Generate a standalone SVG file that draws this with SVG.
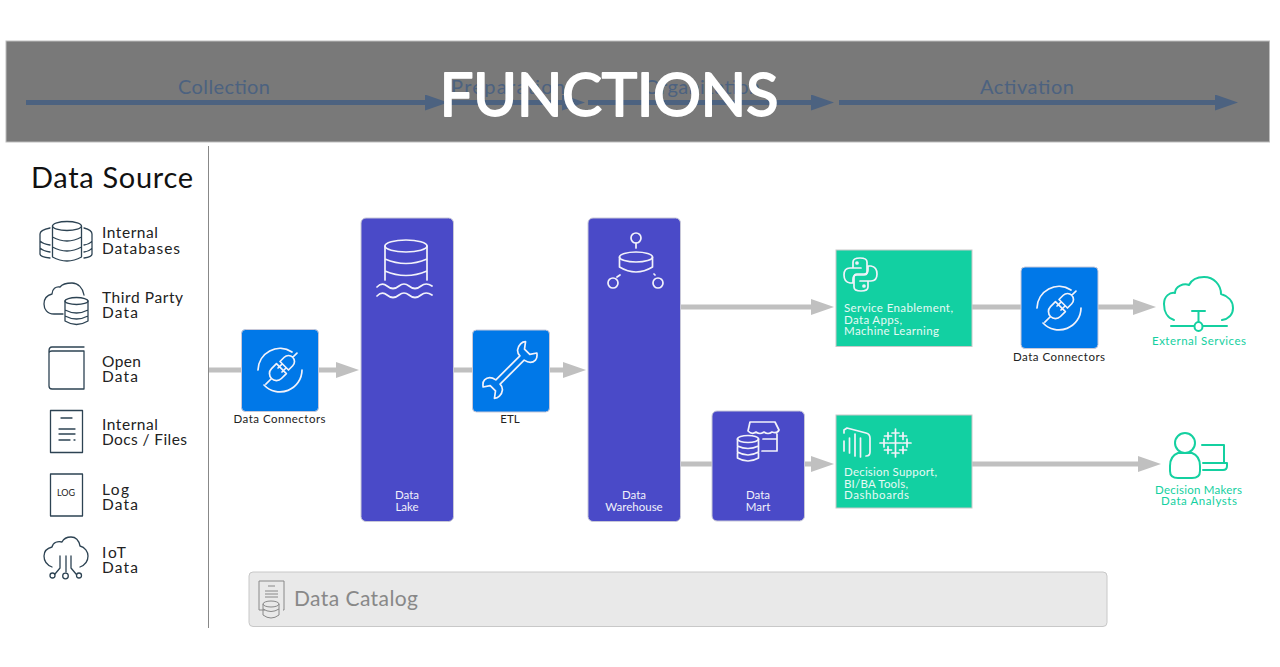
<svg xmlns="http://www.w3.org/2000/svg" width="1280" height="667" viewBox="0 0 1280 667">
<style>
text{font-family:"Lato","Noto Sans",sans-serif}
.src{font-size:15.5px;fill:#222}
.dark{fill:none;stroke:#2d4353;stroke-width:1.3;stroke-linecap:round;stroke-linejoin:round}
.wht{fill:none;stroke:#f2f2fa;stroke-width:1.7;stroke-linecap:round;stroke-linejoin:round}
.grn{fill:none;stroke:#14d0a0;stroke-width:2;stroke-linecap:round;stroke-linejoin:round}
.hd{font-size:20px;fill:#4c6280;text-anchor:middle}
.lbl{font-size:11.5px;fill:#222;text-anchor:middle}
.inb{font-size:11.5px;fill:#f0f0fa;text-anchor:middle}
.ing{font-size:11.5px;fill:#e6faf5}
.ext{font-size:11.5px;fill:#14d0a0;text-anchor:middle}
.blue{fill:#0078e8;stroke:#c8c8d8}
.ind{fill:#4a4ac8;stroke:#c8c8d8}
.teal{fill:#12d0a2;stroke:#c8c8c8}
.flow{stroke:#c0c0c0;stroke-width:5;fill:none}
.stage{stroke:#4c6280;stroke-width:5;fill:none}
</style>
<defs>
<marker id="ga" markerUnits="userSpaceOnUse" markerWidth="24" markerHeight="16" refX="1" refY="8" orient="auto"><path d="M0,0L23,8L0,16Z" fill="#c0c0c0"/></marker>
<marker id="sa" markerUnits="userSpaceOnUse" markerWidth="24" markerHeight="16" refX="1" refY="8" orient="auto"><path d="M0,0L23,8L0,16Z" fill="#4c6280"/></marker>
<g id="plug" class="wht">
<path d="M12,-18A22,22 0 0 0 -22,0M22,0A22,22 0 0 1 -16,15"/>
<g transform="rotate(-45)"><path d="M2,-7V7H-5A7,7 0 0 1 -5,-7ZM6,-6V6H12A6,6 0 0 0 12,-6ZM6,-2.800H0M6,2.800H0M18,0H24M-12,0H-20"/></g>
</g>
</defs>

<g id="header">
<rect x="6" y="41" width="1263.500" height="101" fill="#797979" stroke="#bdbdbd"/>
<g id="stage-connectors">
<path d="M26,102.500H426" class="stage" marker-end="url(#sa)"/>
<path d="M451,102.500H563" class="stage" marker-end="url(#sa)"/>
<path d="M588,102.500H812" class="stage" marker-end="url(#sa)"/>
<path d="M839,102.500H1216" class="stage" marker-end="url(#sa)"/>
</g>
<text class="hd" x="224" y="93.500" textLength="92">Collection</text>
<text class="hd" x="508" y="93.500" textLength="114">Preparation</text>
<text class="hd" x="702" y="93.500" textLength="116">Organization</text>
<text class="hd" x="1027" y="93.500" textLength="94">Activation</text>
<text x="609" y="116" font-size="60" fill="#fff" stroke="#fff" stroke-width="1.800" stroke-linejoin="round" text-anchor="middle" textLength="339">FUNCTIONS</text>
</g>

<path d="M208.500,146V628" stroke="#888" stroke-width="1"/>
<text x="31" y="188" font-size="29" fill="#111" textLength="162">Data Source</text>

<g id="src-databases">
<g class="dark"><ellipse cx="67" cy="226" rx="14.500" ry="4.500"/><path d="M52.500,226V257Q67,265 81.500,257V226M52.500,237Q67,245 81.500,237M52.500,247Q67,255 81.500,247"/>
<path d="M50,228Q40,230 40,234V254Q40,257 50,258M40,241Q43,244 50,245M40,248Q43,251 50,252M84,228Q92,230 92,234V254Q92,257 84,258M92,241Q90,244 84,245M92,248Q90,251 84,252"/></g>
<text class="src" x="102" y="238" textLength="56">Internal</text><text class="src" x="102" y="254" textLength="78">Databases</text></g>

<g id="src-third-party">
<g class="dark"><path d="M63,314H54C47,314 44,309 44,304C44,298 48,295 52,294C52,289 56,286 60,287C63,283 68,283 72,283C78,283 83,288 84,295"/>
<ellipse cx="76.500" cy="301" rx="11.500" ry="3.500"/><path d="M65,301V321Q76.500,328 88,321V301M65,310Q76.500,316 88,310M65,316Q76.500,322 88,316"/></g>
<text class="src" x="102" y="303" textLength="81">Third Party</text><text class="src" x="102" y="318" textLength="36">Data</text></g>

<g id="src-open">
<g class="dark"><path d="M84,347H52Q49,347 49,351V386Q49,389 52,389H84V351H52Q49,351 49,353"/></g>
<text class="src" x="102" y="367" textLength="39">Open</text><text class="src" x="102" y="382" textLength="36">Data</text></g>

<g id="src-docs">
<g class="dark"><rect x="50.500" y="410.500" width="32" height="42"/><path d="M61,418H72M59,429H75M59,434H75M59,440H70M74,440H75"/></g>
<text class="src" x="102" y="430" textLength="56">Internal</text><text class="src" x="102" y="445" textLength="85">Docs / Files</text></g>

<g id="src-log">
<rect class="dark" x="50.500" y="474" width="32" height="42"/><text x="66" y="496" font-size="9" fill="#222" text-anchor="middle">LOG</text>
<text class="src" x="102" y="495" textLength="27">Log</text><text class="src" x="102" y="510" textLength="36">Data</text></g>

<g id="src-iot">
<g class="dark"><path d="M52,567C47,565 44,561 44,556C44,551 48,548 52,547C53,542 58,541 62,542C64,538 68,537 71,537C76,537 79,541 80,546C85,547 88,552 88,556C88,561 85,565 80,567M60,556V568L55,574M66,556V572M71,556V568L76,574"/><circle cx="52.500" cy="575.500" r="2.500"/><circle cx="65.500" cy="576" r="2.800"/><circle cx="79" cy="575.500" r="2.500"/></g>
<text class="src" x="102" y="558" textLength="24">IoT</text><text class="src" x="102" y="573" textLength="36">Data</text></g>

<g id="connectors">
<path class="flow" d="M209,370H337" marker-end="url(#ga)"/>
<path class="flow" d="M453,370H564" marker-end="url(#ga)"/>
<path class="flow" d="M681,307H812" marker-end="url(#ga)"/>
<path class="flow" d="M972,307H1134" marker-end="url(#ga)"/>
<path class="flow" d="M681,464H812" marker-end="url(#ga)"/>
<path class="flow" d="M972,464H1139" marker-end="url(#ga)"/>
</g>

<g id="connectors-in">
<rect class="blue" x="241.500" y="329.500" width="77" height="82" rx="4"/>
<use href="#plug" transform="translate(280,370)"/>
<text class="lbl" x="279.500" y="423" textLength="92">Data Connectors</text></g>

<g id="data-lake">
<rect class="ind" x="361" y="218" width="92.500" height="303.500" rx="5"/>
<g class="wht"><ellipse cx="406" cy="246" rx="21" ry="6"/><path d="M385,246V280M427,246V280M385,259Q406,268 427,259M385,271Q406,280 427,271M377,287Q382,282 387,286Q393,291 399,286Q404,282 409,286Q415,291 421,286Q426,282 432,286M377,296Q382,291 387,295Q393,300 399,295Q404,291 409,295Q415,300 421,295Q426,291 432,295"/></g>
<text class="inb" x="407" y="499">Data</text><text class="inb" x="407" y="511">Lake</text></g>

<g id="etl">
<rect class="blue" x="472.500" y="330" width="77" height="82" rx="4"/>
<g transform="translate(510,370) rotate(-45)" class="wht"><path d="M-17,-3H17C17,-8 21,-11 26,-11Q29,-11 31,-9L25,-4.500V3L31,7Q28,11 25,11C21,11 18,8 17,3H-17C-17,8 -21,11 -26,11Q-29,11 -31,9L-25,4.500V-3L-31,-7Q-28,-11 -25,-11C-21,-11 -18,-8 -17,-3Z"/></g>
<text class="lbl" x="510" y="423">ETL</text></g>

<g id="data-warehouse">
<rect class="ind" x="588" y="218" width="92.500" height="303.500" rx="5"/>
<g class="wht"><ellipse cx="636" cy="257" rx="16.500" ry="5"/><path d="M619.500,257V267Q636,277 652.500,267V257M636,243V248M617,277L620,275M655,275L654,274"/><circle cx="636" cy="238" r="5"/><circle cx="613" cy="283" r="5"/><circle cx="658" cy="283" r="5"/></g>
<text class="inb" x="634" y="499">Data</text><text class="inb" x="634" y="511">Warehouse</text></g>

<g id="data-mart">
<rect class="ind" x="712" y="411" width="92.500" height="110" rx="5"/>
<g class="wht"><ellipse cx="748" cy="439" rx="10.500" ry="3.500"/><path d="M737.500,439V458Q748,464 758.500,458V439M737.500,446Q748,451 758.500,446M737.500,452Q748,458 758.500,452"/>
<path d="M750,422H775L779,430Q777,434 772,432Q768,435 764,432Q760,435 756,432Q752,435 748,431ZM777,434V451H762M763,439H777"/></g>
<text class="inb" x="758" y="499">Data</text><text class="inb" x="758" y="511">Mart</text></g>

<g id="service-enablement">
<rect class="teal" x="836" y="250" width="136" height="96.500"/>
<g class="wht"><path d="M861,268H850Q844,268 844,275Q844,282 850,283H853V279Q853,275 857,275H864Q867,275 867,272V262Q867,258 860,258Q853,258 853,262V268"/><path transform="rotate(180 860.500 274.500)" d="M861,268H850Q844,268 844,275Q844,282 850,283H853V279Q853,275 857,275H864Q867,275 867,272V262Q867,258 860,258Q853,258 853,262V268"/><circle cx="857" cy="263" r="1"/><circle cx="864" cy="286" r="1"/></g>
<text class="ing" x="844" y="312" textLength="109">Service Enablement,</text><text class="ing" x="844" y="323.500" textLength="58">Data Apps,</text><text class="ing" x="844" y="335" textLength="95">Machine Learning</text></g>

<g id="connectors-out">
<rect class="blue" x="1021" y="267" width="77" height="81.500" rx="4"/>
<use href="#plug" transform="translate(1059,308)"/>
<text class="lbl" x="1059" y="361" textLength="92">Data Connectors</text></g>

<g id="decision-support">
<rect class="teal" x="836" y="415" width="136" height="93"/>
<g class="wht"><path d="M844,433V430L847,428L866,433Q870,434 870,438V452Q870,456 866,456M844,441V451M849.500,438V453M855,434V456M860.500,438V457"/>
<path d="M895.500,437V449M889.500,443H901.500M895.500,429V437M892,433H899M895.500,449V457M892,453H899M884,439V447M880,443H888M907,439V447M903,443H911M888,432.500V439.500M884.500,436H891.500M903,432.500V439.500M899.500,436H906.500M888,446.500V453.500M884.500,450H891.500M903,446.500V453.500M899.500,450H906.500"/></g>
<text class="ing" x="844" y="476" textLength="93">Decision Support,</text><text class="ing" x="844" y="487.500" textLength="64">BI/BA Tools,</text><text class="ing" x="844" y="499" textLength="65">Dashboards</text></g>

<g id="external-services">
<g class="grn"><path d="M1174,320C1167,318 1164,311 1164,304C1164,296 1170,292 1175,293C1175,286 1184,283 1189,285C1192,279 1198,277 1204,277C1214,277 1221,285 1221,294C1228,296 1233,301 1233,308C1233,315 1228,319 1222,320M1192,311H1205M1198.500,311V322M1171,326H1194M1203,326H1227"/><ellipse cx="1198.500" cy="326.500" rx="4" ry="4.500"/></g>
<text class="ext" x="1199" y="344.500" textLength="94">External Services</text></g>

<g id="decision-makers">
<g class="grn"><circle cx="1185" cy="443" r="10"/><path d="M1178,453H1192Q1200,456 1200,466V471Q1200,478 1192,478H1178Q1170,478 1170,471V466Q1170,456 1178,453ZM1202,445H1224V463M1203,463H1227V466Q1227,470 1223,470H1203"/></g>
<text class="ext" x="1198.500" y="494" textLength="87">Decision Makers</text><text class="ext" x="1199" y="505" textLength="76">Data Analysts</text></g>

<g id="data-catalog">
<rect x="249" y="572" width="858" height="54.500" rx="4" fill="#e9e9e9" stroke="#c8c8c8"/>
<g fill="none" stroke="#888" stroke-width="1"><path d="M265,610H259V581H284V610H283M268,586H275M265,591H278M265,594H278M265,597H278"/><ellipse cx="271" cy="604" rx="8" ry="3"/><path d="M263,604V615Q271,621 279,615V604M263,609Q271,614 279,609"/></g>
<text x="294" y="605.500" font-size="21" fill="#888" textLength="124">Data Catalog</text></g>
</svg>
